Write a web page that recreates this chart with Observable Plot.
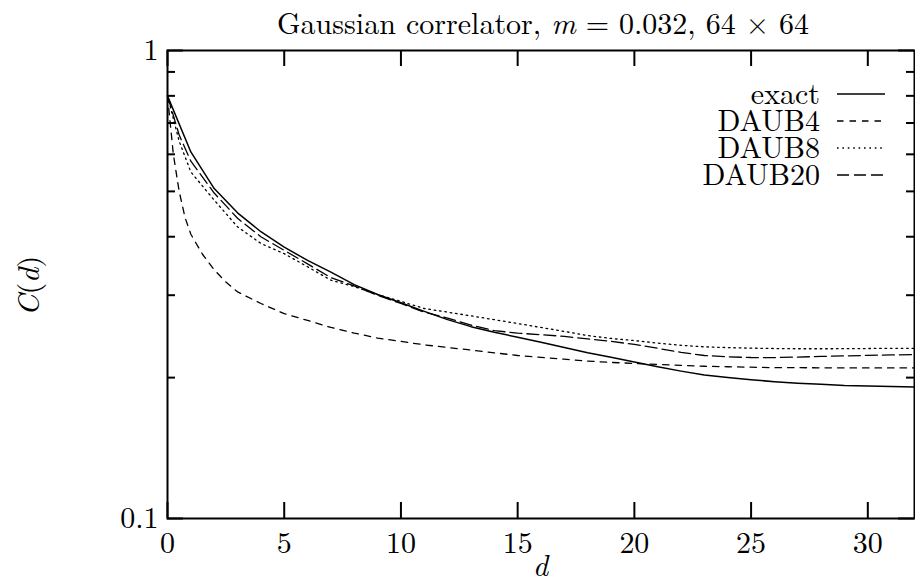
<!DOCTYPE html>
<html><head><meta charset="utf-8">
<script src="https://cdn.jsdelivr.net/npm/d3@7"></script>
<script src="https://cdn.jsdelivr.net/npm/@observablehq/plot@0.6"></script>
<style>body{margin:0;background:#fff}</style>
</head><body><div id="chart"></div>
<script>
// ---- data ----
const seriesNames = ["exact", "DAUB4", "DAUB8", "DAUB20"];
const dashes = {exact: null, DAUB4: "6.5,6", DAUB8: "1.6,3.8", DAUB20: "12,5"};

const dExact = [0,1,2,3,4,5,6,7,8,9,10,11,12,13,14,15,16,17,18,19,20,21,22,23,24,25,26,27,28,29,30,31,32];
const cExact = [0.80,0.607,0.507,0.450,0.410,0.380,0.356,0.336,0.316,0.301,0.289,0.277,0.266,0.257,0.250,0.244,0.238,0.232,0.226,0.221,0.216,0.211,0.2065,0.2025,0.2,0.198,0.196,0.1945,0.1935,0.1925,0.192,0.1915,0.191];

const dDaub4 = [0,0.25,0.5,0.75,1,1.5,2,2.5,3,4,5,6,7,8,9,10,11,12,13,14,15,16,17,18,19,20,21,22,23,24,25,26,27,28,29,30,31,32];
const cDaub4 = [0.80,0.60,0.50,0.44,0.405,0.367,0.340,0.320,0.305,0.288,0.274,0.265,0.256,0.249,0.243,0.239,0.235,0.232,0.229,0.226,0.223,0.221,0.219,0.217,0.2155,0.2145,0.2135,0.2125,0.2115,0.211,0.2105,0.210,0.210,0.2099,0.2098,0.2098,0.2098,0.2098];

const dDaub8 = [0,0.5,1,2,3,4,5,6,7,8,9,10,11,12,13,14,15,16,17,18,19,20,21,22,23,24,25,26,27,28,29,30,31,32];
const cDaub8 = [0.80,0.64,0.55,0.479,0.420,0.387,0.368,0.345,0.323,0.313,0.301,0.291,0.281,0.276,0.271,0.266,0.261,0.256,0.251,0.246,0.2425,0.240,0.237,0.2345,0.2327,0.2318,0.2312,0.2308,0.2305,0.2305,0.2306,0.2308,0.231,0.231];

const dDaub20 = [0,0.5,1,2,3,4,5,6,7,8,9,10,11,12,13,14,15,16,17,18,19,20,21,22,23,24,25,26,27,28,29,30,31,32];
const cDaub20 = [0.80,0.66,0.58,0.496,0.438,0.400,0.374,0.350,0.327,0.314,0.300,0.288,0.276,0.268,0.259,0.252,0.249,0.247,0.245,0.242,0.239,0.2355,0.231,0.2265,0.223,0.2215,0.2208,0.2207,0.2213,0.222,0.2226,0.2231,0.2236,0.224];

const xTicks = [0,5,10,15,20,25,30];
const yMajor = [0.1, 1];
const yMinor = [0.2,0.3,0.4,0.5,0.6,0.7,0.8,0.9];
const yLabels = {0.1: "0.1", 1: "1"};

// ---- build table ----
const rows = [];
[["exact", dExact, cExact], ["DAUB4", dDaub4, cDaub4], ["DAUB8", dDaub8, cDaub8], ["DAUB20", dDaub20, cDaub20]]
  .forEach(([name, ds, cs]) => ds.forEach((dv, i) => rows.push({series: name, d: dv, c: cs[i]})));

const W = 915, H = 585, mt = 50, mb = 67, ml = 167, mr = 1;
const innerW = W - ml - mr, innerH = H - mt - mb;
const font = "Latin Modern Roman, Liberation Serif, serif";
const fs = 30;

const plot = Plot.plot({
  width: W, height: H,
  marginTop: mt, marginBottom: mb, marginLeft: ml, marginRight: mr,
  style: {fontFamily: font, fontSize: fs + "px", background: "#fff", color: "#000"},
  x: {domain: [0, 32]},
  y: {type: "log", domain: [0.1, 1]},
  marks: [
    Plot.axisX(xTicks, {tickSize: 0, tickPadding: 13, label: null, fontSize: fs, fontFamily: font}),
    Plot.axisY(yMajor, {tickSize: 0, tickPadding: 9, label: null, tickFormat: v => yLabels[v], fontSize: fs, fontFamily: font}),
    Plot.ruleX(xTicks, {x: v => v, insetTop: innerH - 16, stroke: "#000", strokeWidth: 2}),
    Plot.ruleX(xTicks, {x: v => v, insetBottom: innerH - 16, stroke: "#000", strokeWidth: 2}),
    Plot.ruleY(yMajor, {y: v => v, insetRight: innerW - 16, stroke: "#000", strokeWidth: 2}),
    Plot.ruleY(yMajor, {y: v => v, insetLeft: innerW - 16, stroke: "#000", strokeWidth: 2}),
    Plot.ruleY(yMinor, {y: v => v, insetRight: innerW - 8, stroke: "#000", strokeWidth: 2}),
    Plot.ruleY(yMinor, {y: v => v, insetLeft: innerW - 8, stroke: "#000", strokeWidth: 2}),
    ...seriesNames.map(name => Plot.line(rows.filter(r => r.series === name), {
      x: "d", y: "c", stroke: "#000", strokeWidth: name === "exact" ? 1.5 : 1.3,
      strokeDasharray: dashes[name], strokeLinejoin: "round"
    })),
    Plot.frame({stroke: "#000", strokeWidth: 2})
  ]
});

const svg = d3.select(plot);
const txt = (sel) => sel.attr("font-family", font).attr("font-size", fs).attr("fill", "#000");

// title
const t = txt(svg.append("text"))
  .attr("x", 543).attr("y", 34)
  .attr("text-anchor", "middle");
t.append("tspan").text("Gaussian correlator, ");
t.append("tspan").attr("font-style", "italic").text("m");
t.append("tspan").text(" = 0.032, 64 × 64");

// x label
txt(svg.append("text"))
  .attr("x", ml + innerW / 2).attr("y", 576)
  .attr("text-anchor", "middle")
  .attr("font-style", "italic")
  .text("d");

// y label
const yl = txt(svg.append("text"))
  .attr("transform", `translate(39,${mt + innerH / 2 + 2}) rotate(-90)`)
  .attr("text-anchor", "middle");
yl.append("tspan").attr("font-style", "italic").text("C");
yl.append("tspan").text("(");
yl.append("tspan").attr("font-style", "italic").text("d");
yl.append("tspan").text(")");

// legend
const lg = svg.append("g");
seriesNames.forEach((name, i) => {
  const y = 94 + 27 * i;
  txt(lg.append("text"))
    .attr("x", W - 95).attr("y", y).attr("dy", "0.33em")
    .attr("text-anchor", "end")
    .text(name);
  lg.append("line")
    .attr("x1", W - 78).attr("x2", W - 30).attr("y1", y).attr("y2", y)
    .attr("stroke", "#000").attr("stroke-width", name === "exact" ? 1.5 : 1.3)
    .attr("stroke-dasharray", dashes[name]);
});

document.getElementById("chart").appendChild(plot);
</script>
</body></html>
